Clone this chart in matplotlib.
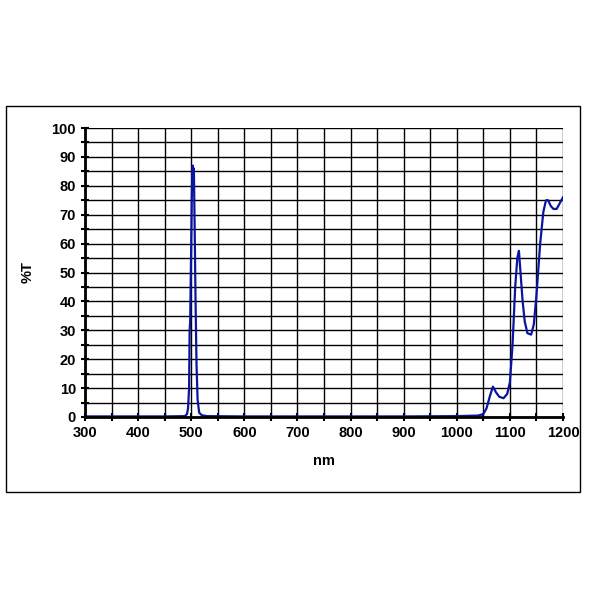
import matplotlib
matplotlib.use("Agg")
import matplotlib.pyplot as plt
from matplotlib.patches import Rectangle

plt.rcParams["font.family"] = ["Liberation Sans", "DejaVu Sans"]

# transmission curve
wavelength = [300, 350, 450, 488, 492, 494, 496, 497, 498, 500, 501, 502, 503, 504, 505, 506,
              507, 508, 510, 512, 515, 520, 530, 600, 900, 1000, 1040, 1050, 1056, 1062, 1068,
              1074, 1080, 1088, 1095, 1100, 1105, 1110, 1114, 1117, 1120, 1124, 1128, 1133,
              1140, 1145, 1150, 1157, 1163, 1168, 1172, 1177, 1182, 1188, 1194, 1200]
transmission = [0.2, 0.2, 0.2, 0.3, 1, 3, 10, 30, 33, 60, 75, 84, 87, 80, 86, 72,
                58, 42, 18, 6, 1.5, 0.6, 0.3, 0.2, 0.2, 0.3, 0.5, 1, 3, 7, 10.5,
                8.5, 7, 6.5, 8, 12, 25, 45, 55, 57.5, 50, 40, 33, 29,
                28.5, 32, 42, 60, 71, 75, 75, 73, 72, 72, 74, 76]

fig = plt.figure(figsize=(5.97, 5.97), dpi=100)
fig.patches.append(Rectangle((6/597, 105/597), 574/597, 386/597, transform=fig.transFigure,
                             fill=False, edgecolor="black", linewidth=1))

ax = fig.add_axes([85/597, 180/597, 478/597, 289/597])
ax.plot(wavelength, transmission, color="#0a14a0", linewidth=1.6)

ax.set_xlim(300, 1200)
ax.set_ylim(0, 100)
ax.set_xticks(range(300, 1201, 100))
ax.set_xticks(range(350, 1200, 100), minor=True)
ax.set_yticks(range(0, 101, 10))
ax.set_yticks(range(5, 100, 10), minor=True)
ax.grid(which="both", color="black", linewidth=1)
ax.tick_params(which="both", direction="inout", length=6, width=1.5, labelsize=10.5)
for lab in ax.get_xticklabels() + ax.get_yticklabels():
    lab.set_fontweight("bold")
for s in ["top", "right"]:
    ax.spines[s].set_visible(False)
ax.spines["left"].set_linewidth(2)
ax.spines["bottom"].set_linewidth(2)

ax.set_xlabel("nm", fontsize=10.5, fontweight="bold", labelpad=10)
ax.set_ylabel("%T", fontsize=10.5, fontweight="bold", labelpad=12)

fig.savefig("out.png", dpi=100)
